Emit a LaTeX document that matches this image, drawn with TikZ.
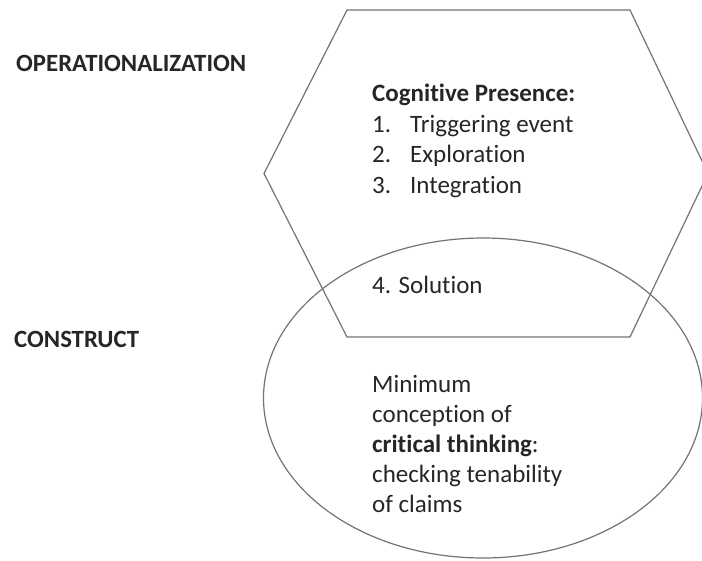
\documentclass[tikz,border=0pt]{standalone}
\usepackage{fontspec}
\setmainfont{Carlito}[Ligatures=NoCommon]
\newcommand{\itemno}[1]{\makebox[38pt][l]{#1}}

\begin{document}
\begin{tikzpicture}[x=1pt, y=-1pt,
  outline/.style={draw=black!55, line width=1.2pt},
  txt/.style={anchor=base west, inner sep=0pt, align=left,
    font=\fontsize{25}{30.5}\selectfont, text=black!85}]
  \useasboundingbox (0,0) rectangle (702,560);
  % hexagon and ellipse
  \begin{scope}
    \clip (0,0) rectangle (702,560);
    \draw[outline] (347,10) -- (630,10) -- (708,173.5) -- (630,337)
      -- (347,337) -- (264,173.5) -- cycle;
    \draw[outline] (483,398) ellipse [x radius=219.5, y radius=160];
  \end{scope}
  % side labels (base = last line)
  \node[txt, font=\fontsize{24.8}{30}\selectfont\bfseries] (oper) at (16,71) {OPERATIONALIZATION};
  \node[txt, font=\fontsize{24.8}{30}\selectfont\bfseries] (constr) at (14,347) {CONSTRUCT};
  % texts inside
  \node[txt] (cogn) at (372,193) {\textbf{Cognitive Presence:}\\
    \itemno{1.}Triggering event\\
    \itemno{2.}Exploration\\
    \itemno{3.}Integration};
  \node[txt] (sol) at (372,293) {4. Solution};
  \node[txt, font=\fontsize{25}{30}\selectfont] (crit) at (372,512) {Minimum\\
    conception of\\
    \textbf{critical thinking}:\\
    checking tenability\\
    of claims};
\end{tikzpicture}
\end{document}
